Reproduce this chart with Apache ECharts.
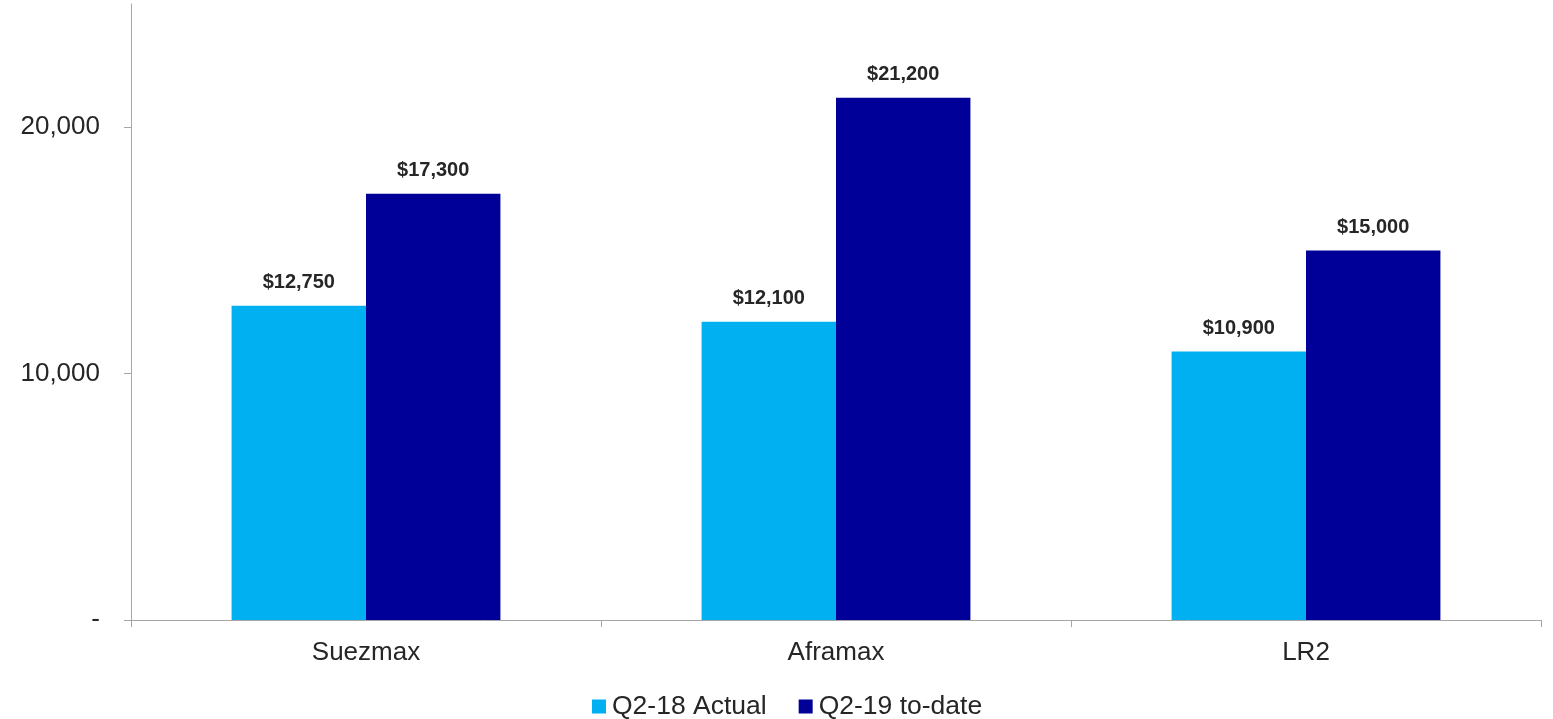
<!DOCTYPE html>
<html>
<head>
<meta charset="utf-8">
<script src="https://cdn.jsdelivr.net/npm/echarts@6/dist/echarts.min.js"></script>
<style>
  html, body { margin: 0; padding: 0; background: #fff; }
  #chart { width: 1553px; height: 719px; }
</style>
</head>
<body>
<div id="chart"></div>
<script>
// Tanker rate categories and quarterly averages (USD/day)
const categories = ['Suezmax', 'Aframax', 'LR2'];
const seriesNames = ['Q2-18 Actual', 'Q2-19 to-date'];
const q218Actual = [12750, 12100, 10900];
const q219ToDate = [17300, 21200, 15000];
const yTicks = [0, 10000, 20000];

const FONT = 'Liberation Sans, Arial, sans-serif';
const AXIS_GREY = '#A6A6A6';
const TEXT = '#262626';

const fmtAxis = v => v === 0 ? '-' : v.toLocaleString('en-US');
const fmtLabel = p => '$' + p.value.toLocaleString('en-US');

const chart = echarts.init(document.getElementById('chart'));

const labelStyle = {
  show: true,
  position: 'top',
  distance: 13,
  formatter: fmtLabel,
  fontFamily: FONT,
  fontSize: 20,
  fontWeight: 'bold',
  color: TEXT
};

chart.setOption({
  animation: false,
  grid: { left: 131, right: 12, top: 4, bottom: 99, containLabel: false },
  legend: {
    top: 688,
    left: 587,
    itemWidth: 14,
    itemHeight: 14,
    itemGap: 32,
    icon: 'rect',
    textStyle: { fontFamily: FONT, fontSize: 26.5, color: TEXT, padding: [0, 0, 0, 1] },
    data: seriesNames
  },
  xAxis: {
    type: 'category',
    data: categories,
    axisLine: { lineStyle: { color: AXIS_GREY, width: 1 } },
    axisTick: { show: true, length: 7, alignWithLabel: false, lineStyle: { color: AXIS_GREY } },
    axisLabel: { fontFamily: FONT, fontSize: 26, color: TEXT, margin: 20 },
    splitLine: { show: false }
  },
  yAxis: {
    type: 'value',
    min: 0,
    max: 25000,
    interval: 5000,
    axisLine: { show: true, lineStyle: { color: AXIS_GREY, width: 1 } },
    axisTick: { show: true, length: 7, lineStyle: { color: AXIS_GREY }, customValues: yTicks },
    axisLabel: {
      fontFamily: FONT, fontSize: 26, color: TEXT, margin: 31,
      customValues: yTicks,
      formatter: fmtAxis
    },
    splitLine: { show: false }
  },
  series: [
    {
      name: seriesNames[0],
      type: 'bar',
      data: q218Actual,
      barGap: '0%',
      barCategoryGap: '42.8%',
      itemStyle: { color: '#00B0F0' },
      label: labelStyle
    },
    {
      name: seriesNames[1],
      type: 'bar',
      data: q219ToDate,
      barGap: '0%',
      barCategoryGap: '42.8%',
      itemStyle: { color: '#000099' },
      label: labelStyle
    }
  ]
});
</script>
</body>
</html>
